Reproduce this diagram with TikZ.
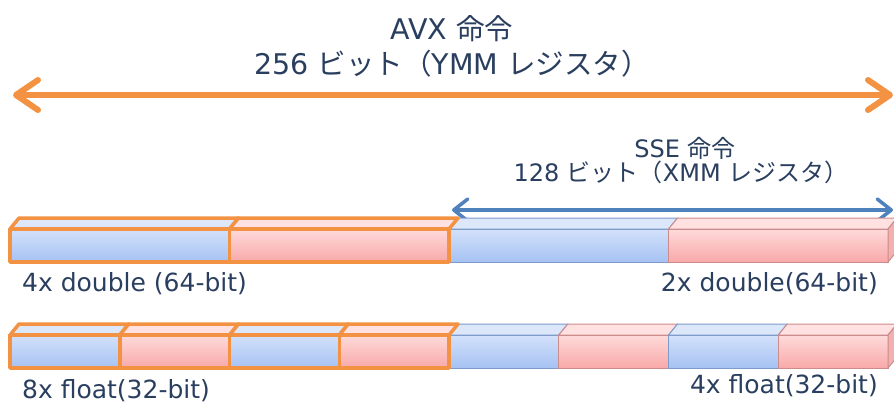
\documentclass[tikz,border=0pt]{standalone}
\usepackage{fontspec}
\setmainfont{DejaVu Sans}
\newfontfamily\jp{Noto Sans CJK JP}
\usetikzlibrary{arrows.meta}
\definecolor{txt}{HTML}{2A3F5F}
\definecolor{orng}{HTML}{F39242}
\definecolor{bluearr}{HTML}{4F81BD}
\definecolor{btop}{HTML}{DCE7FA}
\definecolor{bhi}{HTML}{D3E1FA}
\definecolor{blo}{HTML}{A6C2F3}
\definecolor{bside}{HTML}{B3CBF2}
\definecolor{bedge}{HTML}{7E9BCB}
\definecolor{rtop}{HTML}{FFE1E1}
\definecolor{rhi}{HTML}{FFDADA}
\definecolor{rlo}{HTML}{F8A9A9}
\definecolor{rside}{HTML}{F2B0B0}
\definecolor{redge}{HTML}{CC8C8C}
\tikzset{
  lbl/.style={text=txt, inner sep=0pt, font=\fontsize{25}{30}\selectfont},
  tlbl/.style={text=txt, inner sep=0pt, font=\fontsize{28.5}{34}\selectfont},
  slbl/.style={text=txt, inner sep=0pt, font=\fontsize{24}{29}\selectfont},
  avxarrow/.style={draw=orng, line width=6pt, {Straight Barb[length=22pt,width=30pt,round]}-{Straight Barb[length=22pt,width=30pt,round]}},
  ssearrow/.style={draw=bluearr, line width=3.5pt, {Straight Barb[length=14pt,width=22pt,round]}-{Straight Barb[length=14pt,width=22pt,round]}},
  avxedge/.style={draw=orng, line width=3.5pt, line join=round},
  bthin/.style={draw=bedge, line width=1pt},
  rthin/.style={draw=redge, line width=1pt},
}
% #1 x1, #2 x2, #3 y top of front, #4 y bottom, #5 colour prefix (b/r), #6 edge style
\newcommand{\regcell}[6]{%
  \path[#6, fill=#5top] (#1,#3) -- ++(9,-11) -- (#2+9,#3-11) -- (#2,#3) -- cycle;
  \path[#6, top color=#5hi, bottom color=#5lo] (#1,#3) rectangle (#2,#4);
}
\newcommand{\regside}[5]{%
  \path[#5, fill=#4side] (#1,#2) -- ++(9,-11) -- (#1+9,#3-11) -- (#1,#3) -- cycle;
}
\begin{document}
\begin{tikzpicture}[x=1pt,y=-1pt]
\useasboundingbox (0,0) rectangle (894,405);
\fill[white] (0,0) rectangle (894,405);

% titles
\node[tlbl, anchor=base] (avxt) at (452,39) {AVX {\jp 命令}};
\node[tlbl, anchor=base] (avxb) at (452,74) {256 {\jp ビット（}YMM {\jp レジスタ）}};
\node[slbl, anchor=base] (sset) at (685,157) {SSE {\jp 命令}};
\node[slbl, anchor=base] (sseb) at (681,181) {128 {\jp ビット（}XMM {\jp レジスタ）}};

% arrows
\coordinate (avxL) at (13,95);
\coordinate (avxR) at (893,95);
\draw[avxarrow] (avxL) -- (avxR);
\coordinate (sseL) at (452,210);
\coordinate (sseR) at (893,210);
\draw[ssearrow] (sseL) -- (sseR);

% row 1 : 4x double / 2x double
\regcell{449}{668.5}{229}{262}{b}{bthin}
\regcell{668.5}{888}{229}{262}{r}{rthin}
\regside{888}{229}{262}{r}{rthin}
\regcell{10}{229.5}{229}{262}{b}{avxedge}
\regcell{229.5}{449}{229}{262}{r}{avxedge}

% row 2 : 8x float / 4x float
\regcell{449}{558.75}{335}{368}{b}{bthin}
\regcell{558.75}{668.5}{335}{368}{r}{rthin}
\regcell{668.5}{778.25}{335}{368}{b}{bthin}
\regcell{778.25}{888}{335}{368}{r}{rthin}
\regside{888}{335}{368}{r}{rthin}
\regcell{10}{119.75}{335}{368}{b}{avxedge}
\regcell{119.75}{229.5}{335}{368}{r}{avxedge}
\regcell{229.5}{339.25}{335}{368}{b}{avxedge}
\regcell{339.25}{449}{335}{368}{r}{avxedge}

% labels
\node[lbl, anchor=base west] (l1) at (22,291) {4x double (64-bit)};
\node[lbl, anchor=base east] (r1) at (878,291) {2x double(64-bit)};
\node[lbl, anchor=base west] (l2) at (22,398) {8x float(32-bit)};
\node[lbl, anchor=base east] (r2) at (878,393) {4x float(32-bit)};
\end{tikzpicture}
\end{document}
